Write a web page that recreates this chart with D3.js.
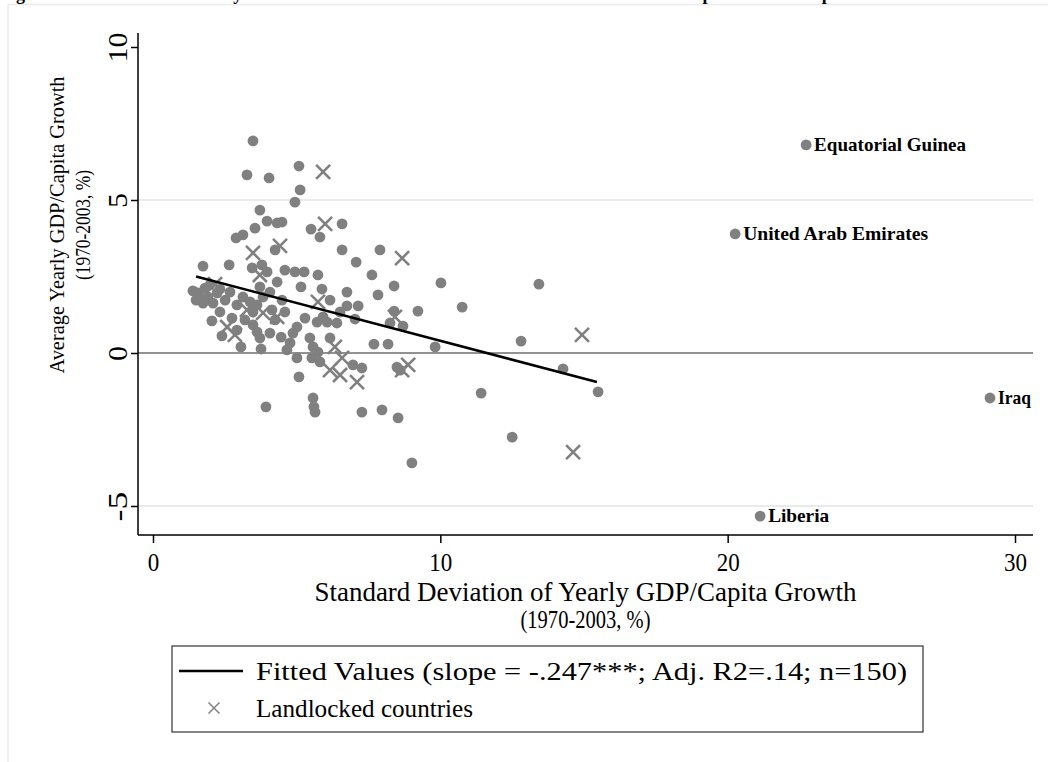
<!DOCTYPE html>
<html>
<head>
<meta charset="utf-8">
<script src="https://cdn.jsdelivr.net/npm/d3@7/dist/d3.min.js"></script>
<style>
  html, body { margin: 0; padding: 0; background: #ffffff; }
  svg { display: block; }
  text { font-family: "Liberation Serif", "Times New Roman", serif; fill: #000; }
</style>
</head>
<body>
<div id="chart"></div>
<script>
// Countries with a coastline: [std. dev. of growth, mean growth]
const coastalX = [3.48,3.27,4.04,5.08,5.12,4.94,3.72,3.97,4.32,4.49,3.55,3.13,2.89,5.50,6.58,5.81,6.58,4.25,1.74,2.65,
  3.45,3.79,3.97,4.32,4.94,5.26,5.74,5.15,5.88,6.75,1.57,1.81,1.98,2.33,1.91,1.74,2.09,2.23,1.64,2.33,
  2.05,2.92,2.40,3.06,3.13,3.38,3.48,3.62,3.72,4.07,3.83,4.14,4.49,3.48,3.62,3.72,4.07,4.46,3.76,5.01,
  4.87,4.77,4.66,5.01,5.08,3.93,5.57,5.60,5.64,5.46,5.57,5.74,6.16,5.92,6.06,5.71,6.40,6.51,5.53,5.81,
  7.90,7.07,7.62,10.02,13.43,7.83,8.39,6.75,7.14,8.39,9.22,10.76,7.03,8.25,8.70,7.69,8.18,9.82,12.81,14.27,
  15.49,11.42,6.96,7.27,8.49,8.60,7.27,7.97,8.53,12.50,9.01,1.39,1.50,2.51,2.68,2.92,2.75,3.20,4.25,4.59,
  5.29,6.16,4.59];
const coastalY = [6.93,5.82,5.72,6.11,5.33,4.93,4.67,4.31,4.25,4.28,4.08,3.86,3.76,4.05,4.22,3.79,3.37,3.37,2.84,2.88,
  2.78,2.88,2.65,2.32,2.65,2.65,2.55,2.16,2.09,1.99,1.96,2.12,2.22,2.09,1.83,1.63,1.63,1.96,1.80,1.34,
  1.05,0.75,0.56,0.20,1.83,1.67,1.34,1.57,2.16,1.99,1.83,1.41,1.73,0.92,0.69,0.49,0.65,0.52,0.13,0.85,
  0.65,0.33,0.10,-0.16,-0.78,-1.76,-1.47,-1.76,-1.93,0.49,0.20,0.03,0.49,1.18,1.01,1.01,0.98,1.34,-0.16,-0.29,
  3.37,2.97,2.55,2.29,2.25,1.90,2.19,1.54,1.54,1.37,1.37,1.50,1.11,0.98,0.88,0.29,0.29,0.20,0.39,-0.52,
  -1.27,-1.31,-0.39,-0.49,-0.46,-0.56,-1.93,-1.86,-2.12,-2.75,-3.59,2.03,1.73,1.73,1.99,1.57,1.14,1.08,1.08,1.34,
  1.14,1.73,2.71];

// Landlocked countries
const landlockedX = [5.92,5.99,4.42,3.48,3.72,2.16,3.27,3.83,4.32,2.58,2.85,5.74,8.42,8.67,6.33,6.58,6.16,6.51,7.10,8.88,
  8.67,14.93,14.62];
const landlockedY = [5.92,4.22,3.50,3.27,2.55,2.25,1.41,1.31,1.18,0.85,0.59,1.67,1.18,3.10,0.20,-0.16,-0.56,-0.72,-0.95,-0.39,
  -0.56,0.59,-3.24];

// Named outliers
const outlierNames = ["Equatorial Guinea", "United Arab Emirates", "Iraq", "Liberia"];
const outlierX = [22.73, 20.26, 29.13, 21.13];
const outlierY = [6.80, 3.89, -1.47, -5.33];

// Fitted regression line
const fitSlope = -0.247;
const fitIntercept = 2.87;
const fitRange = [1.5, 15.45];

const xTicks = [0, 10, 20, 30];
const yTicks = [-5, 0, 5, 10];
const yGrid = [-5, 5];

const titleText = "Figure 1: Growth and Volatility of Real Income across the 150 Nations Studied: Mean GDP per Head and Spread";
const xTitle = ["Standard Deviation of Yearly GDP/Capita Growth", "(1970-2003, %)"];
const yTitle = ["Average Yearly GDP/Capita Growth", "(1970-2003, %)"];
const legendLabels = ["Fitted Values (slope = -.247***; Adj. R2=.14; n=150)", "Landlocked countries"];

const W = 1048, H = 762;
const plot = { left: 138, right: 1033, top: 33, bottom: 535 };
const gray = "#808080";
const serif = "Liberation Serif, Times New Roman, serif";

const svg = d3.select("#chart").append("svg")
  .attr("width", W).attr("height", H);

svg.append("rect").attr("width", W).attr("height", H).attr("fill", "#fff");

// Outer graph frame
svg.append("rect")
  .attr("x", 8).attr("y", 4.5).attr("width", W + 20).attr("height", H + 20)
  .attr("fill", "none").attr("stroke", "#ebebeb").attr("stroke-width", 1.5);

// Title (sits at the very top edge of the frame)
svg.append("text")
  .attr("x", 0).attr("y", 0)
  .attr("font-weight", "bold").attr("font-size", 18)
  .text(titleText);

const x = d3.scaleLinear().domain([0, 30]).range([153, 1015]);
const y = d3.scaleLinear().domain([-5, 10]).range([506, 47]);

// Grid lines
svg.append("g").selectAll("line").data(yGrid).join("line")
  .attr("x1", plot.left).attr("x2", plot.right)
  .attr("y1", d => y(d)).attr("y2", d => y(d))
  .attr("stroke", "#eaeaea").attr("stroke-width", 2);

// Zero reference line
svg.append("line")
  .attr("x1", plot.left).attr("x2", plot.right)
  .attr("y1", y(0)).attr("y2", y(0))
  .attr("stroke", "#6e6e6e").attr("stroke-width", 1.5);

// Y axis
const yAxis = svg.append("g")
  .attr("transform", `translate(${plot.left},0)`)
  .call(d3.axisLeft(y).tickValues(yTicks).tickSize(7).tickFormat(d => String(d)));
yAxis.select(".domain").attr("d", `M0,${plot.top}V${plot.bottom}`)
  .attr("stroke", "#000").attr("stroke-width", 1.5);
yAxis.selectAll(".tick line").attr("stroke", "#000").attr("stroke-width", 1.5);
yAxis.selectAll(".tick text")
  .attr("x", null).attr("dy", null)
  .attr("text-anchor", "middle")
  .attr("transform", "translate(-11,0) rotate(-90)")
  .attr("font-size", 28)
  .attr("font-family", serif)
  .attr("fill", "#000")
  .attr("textLength", d => String(d).length * 15)
  .attr("lengthAdjust", "spacingAndGlyphs");

// X axis
const xAxis = svg.append("g")
  .attr("transform", `translate(0,${plot.bottom})`)
  .call(d3.axisBottom(x).tickValues(xTicks).tickSize(8).tickFormat(d => String(d)));
xAxis.select(".domain").attr("d", `M${plot.left},0H${plot.right}`)
  .attr("stroke", "#000").attr("stroke-width", 1.5);
xAxis.selectAll(".tick line").attr("stroke", "#000").attr("stroke-width", 1.5);
xAxis.selectAll(".tick text")
  .attr("y", 36).attr("dy", null)
  .attr("font-size", 26)
  .attr("font-family", serif)
  .attr("fill", "#000")
  .attr("textLength", d => String(d).length * 11.5)
  .attr("lengthAdjust", "spacingAndGlyphs");

// Axis titles
const xMid = (plot.left + plot.right) / 2;
const xTitleLen = [542, 130];
const xTitleSize = [27, 25];
svg.append("g").selectAll("text").data(xTitle).join("text")
  .attr("x", (d, i) => xMid - xTitleLen[i] / 2).attr("y", (d, i) => 601 + i * 27)
  .attr("font-size", (d, i) => xTitleSize[i])
  .attr("textLength", (d, i) => xTitleLen[i])
  .attr("lengthAdjust", "spacingAndGlyphs")
  .text(d => d);

const yMid = 225;
const yTitleLen = [297, 110];
svg.append("g").selectAll("text").data(yTitle).join("text")
  .attr("font-size", (d, i) => (i === 0 ? 22 : 21))
  .attr("transform", (d, i) => `translate(${64 + i * 26},${yMid + yTitleLen[i] / 2}) rotate(-90)`)
  .attr("textLength", (d, i) => yTitleLen[i])
  .attr("lengthAdjust", "spacingAndGlyphs")
  .text(d => d);

const crossPath = (cx, cy, h) => `M${cx - h},${cy - h}L${cx + h},${cy + h}M${cx - h},${cy + h}L${cx + h},${cy - h}`;

// Coastal countries (dots)
svg.append("g").selectAll("circle").data(d3.range(coastalX.length)).join("circle")
  .attr("cx", i => x(coastalX[i])).attr("cy", i => y(coastalY[i]))
  .attr("r", 5.4).attr("fill", gray);

// Landlocked countries (crosses)
svg.append("g").selectAll("path").data(d3.range(landlockedX.length)).join("path")
  .attr("d", i => crossPath(x(landlockedX[i]), y(landlockedY[i]), 7))
  .attr("stroke", gray).attr("stroke-width", 2.6).attr("fill", "none");

// Named outliers
const outlierLen = [152, 185, 33, 61];
const out = svg.append("g").selectAll("g").data(d3.range(outlierNames.length)).join("g")
  .attr("transform", i => `translate(${x(outlierX[i])},${y(outlierY[i])})`);
out.append("circle").attr("r", 5.4).attr("fill", gray);
out.append("text").attr("x", 8).attr("y", 6)
  .attr("font-weight", "bold").attr("font-size", 19)
  .attr("textLength", i => outlierLen[i])
  .attr("lengthAdjust", "spacingAndGlyphs")
  .text(i => outlierNames[i]);

// Fitted line
svg.append("line")
  .attr("x1", x(fitRange[0])).attr("y1", y(fitIntercept + fitSlope * fitRange[0]))
  .attr("x2", x(fitRange[1])).attr("y2", y(fitIntercept + fitSlope * fitRange[1]))
  .attr("stroke", "#000").attr("stroke-width", 2.6);

// Legend
const lg = svg.append("g");
lg.append("rect").attr("x", 172).attr("y", 646).attr("width", 751).attr("height", 86)
  .attr("fill", "#fff").attr("stroke", "#333").attr("stroke-width", 1.2);
lg.append("line").attr("x1", 179).attr("x2", 243).attr("y1", 671).attr("y2", 671)
  .attr("stroke", "#000").attr("stroke-width", 2.6);
lg.append("path").attr("d", crossPath(214, 708, 5.5))
  .attr("stroke", gray).attr("stroke-width", 1.5).attr("fill", "none");
const legendLen = [651, 217];
lg.selectAll("text").data(legendLabels).join("text")
  .attr("x", 256).attr("y", (d, i) => 680 + i * 37)
  .attr("font-size", 26)
  .attr("textLength", (d, i) => legendLen[i])
  .attr("lengthAdjust", "spacingAndGlyphs")
  .text(d => d);
</script>
</body>
</html>
